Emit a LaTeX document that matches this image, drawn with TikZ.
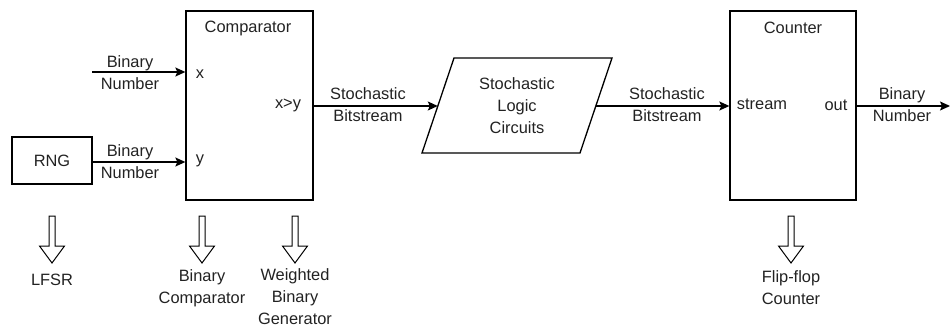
\documentclass[tikz,border=0pt]{standalone}
\usepackage{fontspec}
\setmainfont{Liberation Sans}
\usetikzlibrary{arrows.meta}
\definecolor{txt}{HTML}{222222}
\tikzset{
  blk/.style={draw,line width=1.3pt,rectangle,inner sep=0pt},
  lbl/.style={text=txt,align=center,inner sep=0pt,font=\fontsize{16.4}{22}\selectfont},
  arr/.style={line width=1.3pt,-{Stealth[length=10pt,width=9pt,inset=2pt]}},
  hol/.style={draw,line width=1pt,fill=white},
}
\newcommand{\hollowarrow}[2]{%
  \draw[hol] (#1-3,#2) -- (#1+3,#2) -- (#1+3,#2+30) -- (#1+12.5,#2+30) -- (#1,#2+47)
    -- (#1-12.5,#2+30) -- (#1-3,#2+30) -- cycle;}
\begin{document}
\begin{tikzpicture}[x=1pt,y=-1pt]
\useasboundingbox (0,0) rectangle (951,329);
% blocks
\node[blk,minimum width=127pt,minimum height=189pt] (comp) at (249.5,105.5) {};
\node[blk,minimum width=80pt,minimum height=47pt] (rng) at (52,160.5) {};
\node[lbl] at (rng) {RNG};
\node[blk,minimum width=126pt,minimum height=189pt] (cnt) at (793,105.5) {};
% parallelogram
\coordinate (pbl) at (422,153);
\coordinate (pbr) at (580,153);
\coordinate (ptr) at (612,58);
\coordinate (ptl) at (454,58);
\draw[line width=1.3pt,line join=miter] (pbl) -- (pbr) -- (ptr) -- (ptl) -- cycle;
\coordinate (slcw) at (437.8,106);
\coordinate (slce) at (595.8,106);
\node[lbl] (slc) at (517,106) {Stochastic\\Logic\\Circuits};
% port labels
\node[lbl] at (248,28) {Comparator};
\node[lbl] at (200,74) {x};
\node[lbl] at (200,161) {y};
\node[lbl] at (288,105) {x>y};
\node[lbl] at (793,28) {Counter};
\node[lbl] at (762,104) {stream};
\node[lbl] at (836,105) {out};
% connectors
\coordinate (xin) at (92,72);
\coordinate (outend) at (950,106);
\draw[arr] (xin) -- (comp.west |- xin);
\draw[arr] (rng.east |- 0,162) -- (comp.west |- 0,162);
\draw[arr] (comp.east |- slcw) -- (slcw);
\draw[arr] (slce) -- (cnt.west |- slce);
\draw[arr] (cnt.east |- outend) -- (outend);
% edge labels
\node[lbl] at (130,73) {Binary\\Number};
\node[lbl] at (130,162) {Binary\\Number};
\node[lbl] at (368,105) {Stochastic\\Bitstream};
\node[lbl] at (667,105) {Stochastic\\Bitstream};
\node[lbl] at (902,105) {Binary\\Number};
% hollow arrows
\hollowarrow{52}{216}
\hollowarrow{202}{216}
\hollowarrow{295}{216}
\hollowarrow{791}{216}
\node[lbl] at (52,280) {LFSR};
\node[lbl] at (202,288) {Binary\\Comparator};
\node[lbl] at (295,297) {Weighted\\Binary\\Generator};
\node[lbl] at (791,288) {Flip-flop\\Counter};
\end{tikzpicture}
\end{document}
